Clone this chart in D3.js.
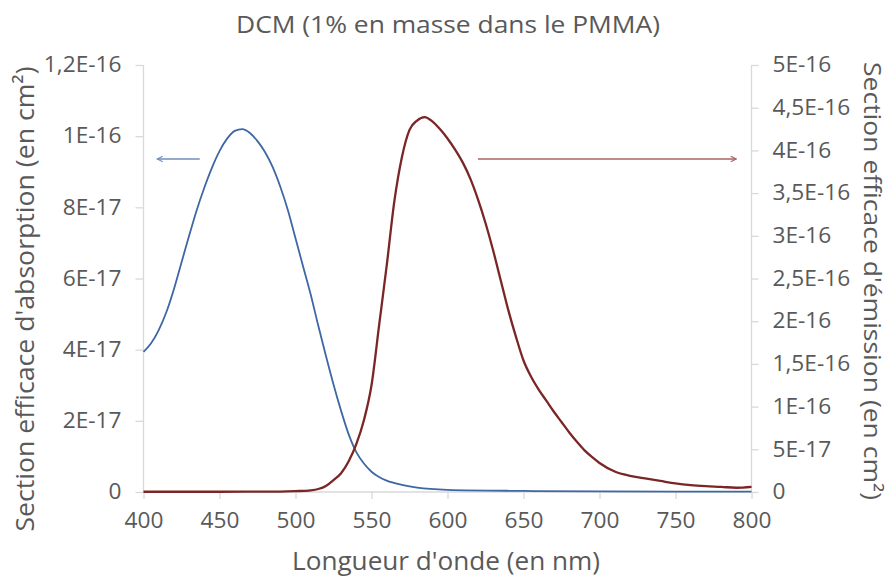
<!DOCTYPE html>
<html>
<head>
<meta charset="utf-8">
<script src="https://cdn.jsdelivr.net/npm/d3@7"></script>
<style>
  html, body { margin: 0; padding: 0; background: #ffffff; }
  svg { display: block; }
  text { font-family: "Open Sans", "DejaVu Sans", sans-serif; fill: #595959; }
</style>
</head>
<body>
<svg id="chart" width="890" height="577"></svg>
<script>
// ---------- DATA ----------
const chartTitle = "DCM (1% en masse dans le PMMA)";
const xTitle = "Longueur d'onde (en nm)";
const yLeftTitle = "Section efficace d'absorption (en cm²)";
const yRightTitle = "Section efficace d'émission (en cm²)";

const xTicks = [400, 450, 500, 550, 600, 650, 700, 750, 800];

// values in units of 1E-17 cm²
const yLeftTicks = [0, 2, 4, 6, 8, 10, 12];
const yLeftTickLabels = ["0", "2E-17", "4E-17", "6E-17", "8E-17", "1E-16", "1,2E-16"];
const yRightTicks = [0, 5, 10, 15, 20, 25, 30, 35, 40, 45, 50];
const yRightTickLabels = ["0", "5E-17", "1E-16", "1,5E-16", "2E-16", "2,5E-16", "3E-16", "3,5E-16", "4E-16", "4,5E-16", "5E-16"];

// absorption cross-section (left axis), 1E-17 cm²
const absWavelength = [400, 405, 410, 415, 420, 425, 430, 435, 440, 445, 450, 455, 460, 465, 470, 475, 480, 485, 490, 495, 500, 505, 510, 515, 520, 525, 530, 535, 540, 545, 550, 555, 560, 570, 580, 600, 650, 700, 800];
const absValue      = [3.94, 4.18, 4.55, 5.05, 5.70, 6.45, 7.20, 7.92, 8.55, 9.11, 9.58, 9.93, 10.15, 10.20, 10.09, 9.86, 9.55, 9.13, 8.58, 7.92, 7.13, 6.34, 5.55, 4.67, 3.83, 3.02, 2.28, 1.62, 1.12, 0.80, 0.57, 0.42, 0.32, 0.20, 0.12, 0.06, 0.03, 0.015, 0.01];

// emission cross-section (right axis), 1E-17 cm²
const emWavelength = [400, 450, 490, 500, 510, 515, 520, 525, 530, 535, 540, 545, 550, 555, 560, 565, 570, 575, 580, 585, 590, 595, 600, 605, 610, 615, 620, 625, 630, 635, 640, 645, 650, 655, 660, 665, 670, 675, 680, 685, 690, 695, 700, 710, 720, 730, 740, 750, 760, 770, 780, 790, 800];
const emValue      = [0.03, 0.03, 0.05, 0.1, 0.2, 0.35, 0.7, 1.4, 2.2, 3.6, 5.6, 8.4, 12.5, 19.5, 26.5, 34.0, 39.2, 42.4, 43.5, 43.9, 43.4, 42.5, 41.4, 40.1, 38.6, 36.7, 34.3, 31.5, 28.3, 24.8, 21.3, 18.2, 15.4, 13.5, 12.0, 10.7, 9.4, 8.2, 7.0, 5.9, 4.9, 4.1, 3.4, 2.4, 1.9, 1.6, 1.3, 1.0, 0.8, 0.68, 0.6, 0.5, 0.6];

// ---------- CHART ----------
const svg = d3.select("#chart");
const plot = { left: 143.5, right: 751.5, top: 65, bottom: 492 };

const x = d3.scaleLinear().domain([400, 800]).range([plot.left, plot.right]);
const yL = d3.scaleLinear().domain([0, 12]).range([plot.bottom, plot.top]);
const yR = d3.scaleLinear().domain([0, 50]).range([plot.bottom, plot.top]);

const axisColor = "#d9d9d9";

// Left axis
const gL = svg.append("g").attr("transform", `translate(${plot.left},0)`)
  .call(d3.axisLeft(yL).tickValues(yLeftTicks).tickSize(8).tickPadding(14)
    .tickFormat((d, i) => yLeftTickLabels[i]));
// Right axis
const gR = svg.append("g").attr("transform", `translate(${plot.right},0)`)
  .call(d3.axisRight(yR).tickValues(yRightTicks).tickSize(7).tickPadding(14)
    .tickFormat((d, i) => yRightTickLabels[i]));
// Bottom axis
const gB = svg.append("g").attr("transform", `translate(0,${plot.bottom})`)
  .call(d3.axisBottom(x).tickValues(xTicks).tickSize(7).tickPadding(14)
    .tickFormat(d3.format("d")));

[gL, gR, gB].forEach(g => {
  g.select(".domain").attr("stroke", axisColor).attr("stroke-width", 1.3);
  g.selectAll(".tick line").attr("stroke", axisColor).attr("stroke-width", 1.3);
  g.selectAll(".tick text").attr("fill", "#595959")
    .style("font-family", '"Open Sans", sans-serif').style("font-size", "21px");
});
// slightly widen tick labels to match the reference's wide glyphs
[gL, gR, gB].forEach(g => {
  g.selectAll(".tick text").each(function () {
    const w = this.getComputedTextLength();
    d3.select(this).attr("textLength", w * 1.08).attr("lengthAdjust", "spacingAndGlyphs");
  });
});
gL.select(".domain").attr("d", `M0,${plot.top}V${plot.bottom}`);
gR.select(".domain").attr("d", `M0,${plot.top}V${plot.bottom}`);
gB.select(".domain").attr("d", `M${plot.left},0H${plot.right}`);

// Curves
const absData = absWavelength.map((w, i) => [w, absValue[i]]);
const emData = emWavelength.map((w, i) => [w, emValue[i]]);

svg.append("path").datum(absData)
  .attr("fill", "none").attr("stroke", "#3e67a5").attr("stroke-width", 1.8)
  .attr("d", d3.line().x(d => x(d[0])).y(d => yL(d[1])).curve(d3.curveMonotoneX));

svg.append("path").datum(emData)
  .attr("fill", "none").attr("stroke", "#7a2626").attr("stroke-width", 2.3)
  .attr("d", d3.line().x(d => x(d[0])).y(d => yR(d[1])).curve(d3.curveMonotoneX));

// Arrows (indicating which axis each curve refers to)
const defs = svg.append("defs");
function marker(id, color) {
  defs.append("marker").attr("id", id).attr("viewBox", "0 0 10 10")
    .attr("refX", 9).attr("refY", 5).attr("markerWidth", 7).attr("markerHeight", 7)
    .attr("markerUnits", "userSpaceOnUse").attr("orient", "auto")
    .append("path").attr("d", "M1,1 L9,5 L1,9").attr("fill", "none")
    .attr("stroke", color).attr("stroke-width", 1.6);
}
marker("arrB", "#6f8dbd");
marker("arrR", "#a86464");
svg.append("line").attr("x1", x(437)).attr("x2", x(409)).attr("y1", 159).attr("y2", 159)
  .attr("stroke", "#6f8dbd").attr("stroke-width", 1.6).attr("marker-end", "url(#arrB)");
svg.append("line").attr("x1", x(620)).attr("x2", x(790)).attr("y1", 159).attr("y2", 159)
  .attr("stroke", "#a86464").attr("stroke-width", 1.6).attr("marker-end", "url(#arrR)");

// Titles
svg.append("text").attr("x", 448).attr("y", 33).attr("text-anchor", "middle")
  .attr("textLength", 424).attr("lengthAdjust", "spacingAndGlyphs")
  .style("font-size", "23px").text(chartTitle);
svg.append("text").attr("x", 446).attr("y", 570).attr("text-anchor", "middle")
  .attr("textLength", 308).attr("lengthAdjust", "spacingAndGlyphs")
  .style("font-size", "25px").text(xTitle);
svg.append("text").attr("transform", "translate(34,299) rotate(-90)").attr("text-anchor", "middle")
  .attr("textLength", 465).attr("lengthAdjust", "spacingAndGlyphs")
  .style("font-size", "26px").text(yLeftTitle);
svg.append("text").attr("transform", "translate(864,281) rotate(90)").attr("text-anchor", "middle")
  .attr("textLength", 438).attr("lengthAdjust", "spacingAndGlyphs")
  .style("font-size", "24px").text(yRightTitle);
</script>
</body>
</html>
